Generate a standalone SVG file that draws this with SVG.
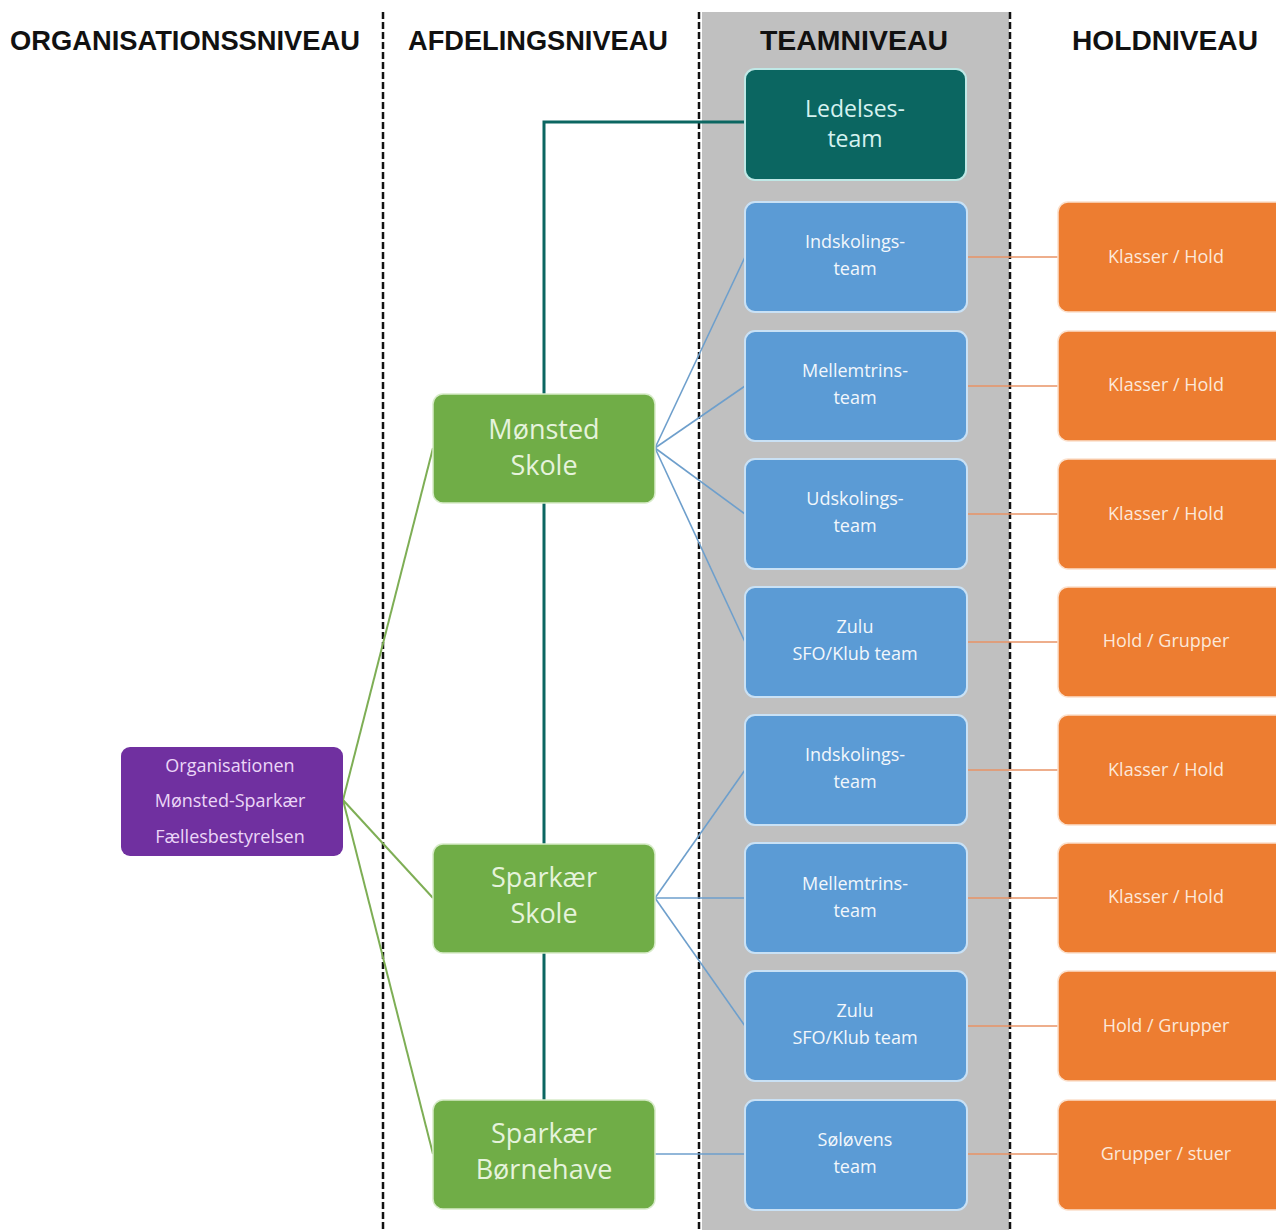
<svg xmlns="http://www.w3.org/2000/svg" width="1276" height="1230" viewBox="0 0 1276 1230">
<style>
.hdr{font-family:"Liberation Sans",Arial,sans-serif;font-weight:bold;font-size:28px;fill:#111;text-anchor:middle}
.t{font-family:"Open Sans","Liberation Sans",sans-serif;text-anchor:middle}
.dash{stroke:#111;stroke-width:2.5;stroke-dasharray:7,3;fill:none}
.blue rect{fill:#5B9BD5;stroke:#C9E1F5;stroke-width:2}
.blue text{fill:#F2F7FC;font-size:18px}
.org rect{fill:#ED7D31;stroke:#FBE0CC;stroke-width:1.5}
.org text{fill:#FCE8D9;font-size:18px}
.grn rect{fill:#70AD47;stroke:#D7EBC9;stroke-width:1.5}
.grn text{fill:#E6F3DC;font-size:27px}
</style>
<rect width="1276" height="1230" fill="#fff"/>
<rect x="702" y="12" width="307" height="1218" fill="#C0C0C0"/>
<line class="dash" x1="383" y1="12" x2="383" y2="1230"/>
<line class="dash" x1="699" y1="12" x2="699" y2="1230"/>
<line class="dash" x1="1010" y1="12" x2="1010" y2="1230"/>
<text class="hdr" x="185" y="50" textLength="350" lengthAdjust="spacingAndGlyphs">ORGANISATIONSSNIVEAU</text>
<text class="hdr" x="538" y="50" textLength="260" lengthAdjust="spacingAndGlyphs">AFDELINGSNIVEAU</text>
<text class="hdr" x="854" y="50" textLength="188" lengthAdjust="spacingAndGlyphs">TEAMNIVEAU</text>
<text class="hdr" x="1165" y="50" textLength="186" lengthAdjust="spacingAndGlyphs">HOLDNIVEAU</text>
<g id="connectors" fill="none">
<path d="M745 122 H544 V394 M544 503 V844 M544 953 V1100" stroke="#0B6661" stroke-width="3"/>
<g stroke="#7EAE55" stroke-width="2">
<line x1="343" y1="800" x2="433" y2="448"/>
<line x1="343" y1="800" x2="433" y2="898"/>
<line x1="343" y1="800" x2="433" y2="1154"/>
</g>
<g stroke="#6E9FCC" stroke-width="1.6">
<line x1="655" y1="448" x2="745" y2="257"/>
<line x1="655" y1="448" x2="745" y2="386"/>
<line x1="655" y1="448" x2="745" y2="514"/>
<line x1="655" y1="448" x2="745" y2="642"/>
<line x1="655" y1="898" x2="745" y2="770"/>
<line x1="655" y1="898" x2="745" y2="898"/>
<line x1="655" y1="898" x2="745" y2="1026"/>
<line x1="655" y1="1154" x2="745" y2="1154"/>
</g>
<g stroke="#E99366" stroke-width="1.6">
<line x1="968" y1="257" x2="1058" y2="257"/>
<line x1="968" y1="386" x2="1058" y2="386"/>
<line x1="968" y1="514" x2="1058" y2="514"/>
<line x1="968" y1="642" x2="1058" y2="642"/>
<line x1="968" y1="770" x2="1058" y2="770"/>
<line x1="968" y1="898" x2="1058" y2="898"/>
<line x1="968" y1="1026" x2="1058" y2="1026"/>
<line x1="968" y1="1154" x2="1058" y2="1154"/>
</g>
</g>
<g id="n-org">
<rect x="121" y="747" width="222" height="109" rx="9" fill="#7030A0"/>
<text class="t" x="230" y="772" font-size="18" fill="#EBD6F7">Organisationen</text>
<text class="t" x="230" y="807" font-size="18" fill="#EBD6F7">Mønsted-Sparkær</text>
<text class="t" x="230" y="843" font-size="18" fill="#EBD6F7">Fællesbestyrelsen</text>
</g>
<g id="n-monsted" class="grn">
<rect x="433" y="394" width="222" height="109" rx="10"/>
<text class="t" x="544" y="439">Mønsted</text>
<text class="t" x="544" y="475">Skole</text>
</g>
<g id="n-sparkaer" class="grn">
<rect x="433" y="844" width="222" height="109" rx="10"/>
<text class="t" x="544" y="887">Sparkær</text>
<text class="t" x="544" y="923">Skole</text>
</g>
<g id="n-bornehave" class="grn">
<rect x="433" y="1100" width="222" height="109" rx="10"/>
<text class="t" x="544" y="1143">Sparkær</text>
<text class="t" x="544" y="1179">Børnehave</text>
</g>
<g id="n-ledelse">
<rect x="745" y="69" width="221" height="111" rx="10" fill="#0B6661" stroke="#BFE8E6" stroke-width="2"/>
<text class="t" x="855" y="117" font-size="23" fill="#D6F2F0">Ledelses-</text>
<text class="t" x="855" y="147" font-size="23" fill="#D6F2F0">team</text>
</g>
<g id="n-ind1" class="blue"><rect x="745" y="202" width="222" height="110" rx="10"/><text class="t" x="855" y="248">Indskolings-</text><text class="t" x="855" y="275">team</text></g>
<g id="n-mel1" class="blue"><rect x="745" y="331" width="222" height="110" rx="10"/><text class="t" x="855" y="377">Mellemtrins-</text><text class="t" x="855" y="404">team</text></g>
<g id="n-uds1" class="blue"><rect x="745" y="459" width="222" height="110" rx="10"/><text class="t" x="855" y="505">Udskolings-</text><text class="t" x="855" y="532">team</text></g>
<g id="n-zulu1" class="blue"><rect x="745" y="587" width="222" height="110" rx="10"/><text class="t" x="855" y="633">Zulu</text><text class="t" x="855" y="660">SFO/Klub team</text></g>
<g id="n-ind2" class="blue"><rect x="745" y="715" width="222" height="110" rx="10"/><text class="t" x="855" y="761">Indskolings-</text><text class="t" x="855" y="788">team</text></g>
<g id="n-mel2" class="blue"><rect x="745" y="843" width="222" height="110" rx="10"/><text class="t" x="855" y="890">Mellemtrins-</text><text class="t" x="855" y="917">team</text></g>
<g id="n-zulu2" class="blue"><rect x="745" y="971" width="222" height="110" rx="10"/><text class="t" x="855" y="1017">Zulu</text><text class="t" x="855" y="1044">SFO/Klub team</text></g>
<g id="n-solovens" class="blue"><rect x="745" y="1100" width="222" height="110" rx="10"/><text class="t" x="855" y="1146">Søløvens</text><text class="t" x="855" y="1173">team</text></g>
<g id="h1" class="org"><rect x="1058" y="202" width="230" height="110" rx="10"/><text class="t" x="1166" y="263">Klasser / Hold</text></g>
<g id="h2" class="org"><rect x="1058" y="331" width="230" height="110" rx="10"/><text class="t" x="1166" y="391">Klasser / Hold</text></g>
<g id="h3" class="org"><rect x="1058" y="459" width="230" height="110" rx="10"/><text class="t" x="1166" y="520">Klasser / Hold</text></g>
<g id="h4" class="org"><rect x="1058" y="587" width="230" height="110" rx="10"/><text class="t" x="1166" y="647">Hold / Grupper</text></g>
<g id="h5" class="org"><rect x="1058" y="715" width="230" height="110" rx="10"/><text class="t" x="1166" y="776">Klasser / Hold</text></g>
<g id="h6" class="org"><rect x="1058" y="843" width="230" height="110" rx="10"/><text class="t" x="1166" y="903">Klasser / Hold</text></g>
<g id="h7" class="org"><rect x="1058" y="971" width="230" height="110" rx="10"/><text class="t" x="1166" y="1032">Hold / Grupper</text></g>
<g id="h8" class="org"><rect x="1058" y="1100" width="230" height="110" rx="10"/><text class="t" x="1166" y="1160">Grupper / stuer</text></g>
</svg>
